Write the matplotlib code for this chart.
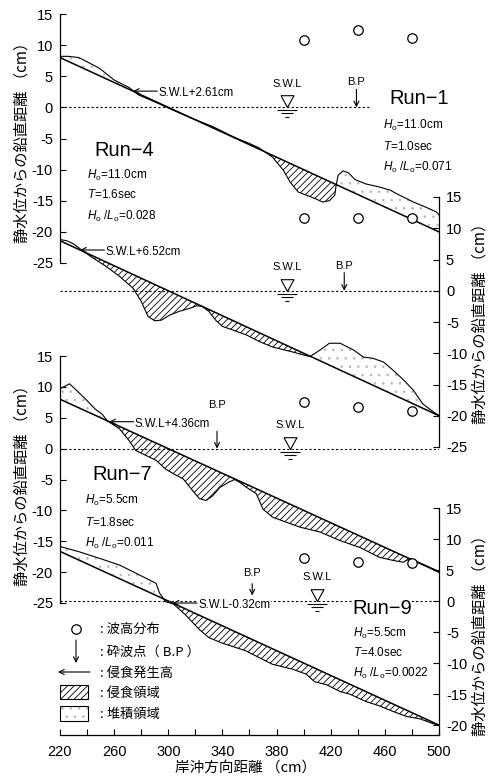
import numpy as np
import matplotlib
matplotlib.use('Agg')
import matplotlib.pyplot as plt
import matplotlib.patches as patches
from matplotlib.transforms import offset_copy

plt.rcParams['font.family'] = ['Liberation Sans', 'Noto Sans CJK JP']
plt.rcParams['axes.unicode_minus'] = False
plt.rcParams['mathtext.fontset'] = 'custom'
plt.rcParams['mathtext.rm'] = 'Liberation Sans'
plt.rcParams['mathtext.it'] = 'Liberation Sans:italic'
plt.rcParams['hatch.linewidth'] = 0.6

W, H = 488, 776
X0, X1 = 60, 439
JP = ['Noto Sans CJK JP', 'Liberation Sans']

# initial beach (slope 1/10), same for every run
init_x = [220, 500]
init_y = [8, -20]

wave_x = [400, 440, 480]

# Run-1
run1_x = [220, 226, 234, 249, 260, 271, 278, 293, 303, 318, 333, 345, 352, 360, 367, 371,
          377, 385, 390, 396, 402, 409, 414, 419, 423, 424, 425.5, 429, 433, 438, 446, 456,
          464, 469, 481, 491, 498, 500]
run1_y = [8.2, 8.2, 8.0, 6.3, 4.4, 3.2, 2.0, 0.6, -0.4, -1.8, -3.1, -4.4, -5.1, -5.8, -6.5, -7.1,
          -8.0, -10.1, -12.0, -13.6, -14.1, -14.7, -15.2, -15.0, -14.1, -12.5, -10.9, -10.2, -10.5,
          -11.6, -12.3, -12.8, -13.3, -13.9, -15.2, -16.1, -16.8, -17.3]
run1_wave = [10.8, 12.4, 11.1]

# Run-4
run4_x = [220, 225, 230, 238, 244, 254, 264, 274, 280, 285, 290, 295, 301, 308, 316, 321, 325,
          330, 335, 340, 348, 358, 367, 377, 392, 402, 405, 412, 419, 427, 437, 444, 451, 459,
          466, 474, 481, 488, 496, 500]
run4_y = [8.2, 8.0, 7.5, 6.2, 5.3, 3.9, 2.3, 0.4, -1.7, -4.1, -4.8, -4.7, -3.9, -3.3, -2.8, -2.4,
          -2.5, -3.3, -4.7, -5.7, -6.3, -7.1, -8.1, -9.0, -9.8, -10.4, -10.5, -9.5, -8.4, -8.4,
          -9.5, -10.6, -10.8, -11.4, -12.7, -14.3, -15.9, -18.1, -19.4, -20.0]
run4_wave = [11.7, 11.7, 11.6]

# Run-7
run7_x = [220, 227, 230, 239, 246, 251, 255, 264, 271, 276, 283.5, 291, 298, 304, 311, 318, 323,
          328, 333, 338, 345, 349, 353, 358, 365, 370, 377, 387, 397, 412, 427, 441.5, 456, 466,
          473.5, 478.5, 490, 498, 500]
run7_y = [9.7, 10.5, 9.9, 8.0, 6.4, 5.6, 4.5, 3.2, 1.3, -0.3, -1.1, -1.9, -3.3, -4.1, -4.9, -6.8,
          -8.1, -8.4, -7.6, -6.3, -5.4, -5.0, -5.5, -6.3, -7.3, -9.8, -11.1, -11.9, -12.7, -13.5,
          -14.9, -16.0, -17.6, -18.1, -18.4, -17.8, -18.9, -19.7, -20.0]
run7_wave = [7.5, 6.8, 6.1]

# Run-9
run9_x = [220, 234, 249, 264, 276, 286, 291, 293.5, 298, 304, 313, 323, 330, 340, 357, 377, 392,
          402, 408, 417, 427, 434, 446, 456, 466, 476, 486, 496, 500]
run9_y = [8.8, 7.95, 6.9, 5.8, 4.5, 3.4, 2.85, 1.3, -0.1, -0.5, -2.3, -4.6, -5.9, -6.8, -8.0,
          -10.2, -11.0, -11.8, -13.0, -13.5, -14.6, -15.0, -16.2, -16.9, -17.8, -18.6, -19.0,
          -19.8, -20.0]
run9_wave = [6.9, 6.3, 6.2]

# erosion start level (cm above S.W.L), S.W.L mark and breaking point positions
levels = [2.61, 6.52, 4.36, -0.32]
swl_pos = [388, 388, 390, 410]
bp_pos = [439, 430, 336, 362]
bp_text_off = [14.5, 14.5, 28, 16.5]   # points above the water line
bp_arrow = [(13, 0), (13, 0), (12.5, 0), (12.5, 4)]  # arrow start / end offset, points

fig = plt.figure(figsize=(W / 100, H / 100), dpi=100)


def add_panel(top, bottom, ylo, yhi, side):
    ax = fig.add_axes([X0 / W, 1 - bottom / H, (X1 - X0) / W, (bottom - top) / H])
    ax.set_xlim(220, 500)
    ax.set_ylim(ylo, yhi)
    ax.patch.set_alpha(0)
    for s in ['top', 'left', 'right', 'bottom']:
        ax.spines[s].set_visible(s == side)
        ax.spines[s].set_linewidth(0.9)
    ax.set_xticks([])
    if side == 'right':
        ax.yaxis.tick_right()
    ax.tick_params(axis='y', direction='in', length=4, width=0.8, labelsize=10.5, pad=5)
    return ax


ax1 = add_panel(14, 263, -25, 15, 'left')
ax4 = add_panel(197, 447, -25, 15, 'right')
ax7 = add_panel(356, 603, -25, 15, 'left')
ax9 = add_panel(508, 735, -21.6, 15, 'right')
for ax in [ax1, ax4, ax7]:
    ax.set_yticks(range(-25, 16, 5))
    ax.spines[('left' if ax is not ax4 else 'right')].set_bounds(-25, 15)
ax9.set_yticks(range(-20, 16, 5))
ax9.spines['bottom'].set_visible(True)
ax9.spines['bottom'].set_linewidth(0.9)
ax9.set_xticks(range(220, 501, 40))
ax9.set_xticks(range(240, 500, 40), minor=True)
ax9.tick_params(axis='x', which='both', direction='in', length=4, width=0.8, labelsize=10.5, pad=7)

panels = [
    (ax1, run1_x, run1_y, run1_wave, 450),
    (ax4, run4_x, run4_y, run4_wave, 500),
    (ax7, run7_x, run7_y, run7_wave, 500),
    (ax9, run9_x, run9_y, run9_wave, 500),
]

tri = [(-0.55, 1), (0.55, 1), (0, 0), (-0.55, 1)]

for i, (ax, xs, ys, wave, zend) in enumerate(panels):
    xs = np.asarray(xs, float)
    ys = np.asarray(ys, float)
    base = np.interp(xs, init_x, init_y)
    ax.fill_between(xs, ys, base, where=ys < base, interpolate=True, facecolor='none',
                    edgecolor='black', hatch='/////', linewidth=0, zorder=1)
    ax.fill_between(xs, ys, base, where=ys > base, interpolate=True, facecolor='none',
                    edgecolor='0.72', hatch='..', linewidth=0, zorder=1)
    ax.plot(init_x, init_y, color='black', lw=1.1, zorder=3)
    ax.plot(xs, ys, color='black', lw=0.8, zorder=3)
    ax.plot([220, zend], [0, 0], color='black', lw=0.8, ls=(0, (2, 2)), zorder=2)
    ax.plot(wave_x, wave, 'o', ms=6.8, mfc='white', mec='black', mew=0.9, zorder=6)

    # S.W.L mark
    sx = swl_pos[i]
    ax.plot([sx], [0], marker=tri, ms=17, mfc='white', mec='black', mew=0.8, ls='none', zorder=5)
    for dy, w in [(3, 14.4), (6, 8.6), (10, 2.9)]:
        tr = offset_copy(ax.transData, fig=fig, x=0, y=-dy, units='dots')
        ax.plot([sx], [0], marker='_', ms=w, mew=0.8, color='black', transform=tr, zorder=5)
    ax.annotate('S.W.L', xy=(sx, 0), xytext=(0, 13.5), textcoords='offset points',
                ha='center', va='bottom', fontsize=8)

    # breaking point
    bx = bp_pos[i]
    a0, a1 = bp_arrow[i]
    tr = offset_copy(ax.transData, fig=fig, x=0, y=a1, units='points')
    ax.annotate('', xy=(bx, 0), xycoords=tr, xytext=(0, a0 - a1), textcoords='offset points',
                arrowprops=dict(arrowstyle='->', lw=0.8, shrinkA=0, shrinkB=0, mutation_scale=9))
    ax.annotate('B.P', xy=(bx, 0), xytext=(0, bp_text_off[i]), textcoords='offset points',
                ha='center', va='bottom', fontsize=8)

    # erosion start height
    lv = levels[i]
    xc = np.interp(lv, init_y[::-1], init_x[::-1])
    ax.annotate('', xy=(xc, lv), xytext=(17.5, 0), textcoords='offset points',
                arrowprops=dict(arrowstyle='->', lw=0.8, shrinkA=0, shrinkB=0, mutation_scale=9))
    lab = 'S.W.L%+.2fcm' % lv
    ax.annotate(lab, xy=(xc, lv), xytext=(18.5, -1.5), textcoords='offset points',
                ha='left', va='center', fontsize=8.3, zorder=7,
                bbox=dict(fc='white', ec='none', pad=0.3))

# overlay in pixel coordinates for labels and legend
ov = fig.add_axes([0, 0, 1, 1])
ov.set_xlim(0, W)
ov.set_ylim(H, 0)
ov.axis('off')
ov.patch.set_alpha(0)

run_labels = [
    ('Run−1', (419, 98), (383, [125, 146, 167]), ('11.0', '1.0', '0.071')),
    ('Run−4', (124, 150), (87, [175, 195, 216]), ('11.0', '1.6', '0.028')),
    ('Run−7', (122, 475), (85, [500, 522, 543]), ('5.5', '1.8', '0.011')),
    ('Run−9', (382, 609), (353, [633, 653, 673]), ('5.5', '4.0', '0.0022')),
]
for name, (rx, ry), (px, pys), (h0, t, st) in run_labels:
    ov.text(rx, ry, name, ha='center', va='center', fontsize=14.5,
            bbox=dict(fc='white', ec='none', pad=0.5))
    ov.text(px, pys[0], r'$H_{\rm o}$=' + h0 + 'cm', ha='left', va='center', fontsize=8.5)
    ov.text(px, pys[1], r'$T$=' + t + 'sec', ha='left', va='center', fontsize=8.5)
    ov.text(px, pys[2], r'$H_{\rm o}$ /$L_{\rm o}$=' + st, ha='left', va='center', fontsize=8.5)

ylab = '静水位からの鉛直距離 （cm）'
for (lx, ly) in [(22, 139), (480, 320), (22, 482), (480, 632)]:
    ov.text(lx, ly, ylab, rotation=90, ha='center', va='center', fontsize=11, family=JP)
ov.text(246, 768, '岸沖方向距離 （cm）', ha='center', va='center', fontsize=10.5, family=JP)

# legend
leg_txt = [': 波高分布', ': 砕波点（ B.P ）', ': 侵食発生高', ': 侵食領域', ': 堆積領域']
leg_y = [629, 652, 673, 693, 714]
ov.plot([76], [629], 'o', ms=6.8, mfc='white', mec='black', mew=0.9)
ov.annotate('', xy=(76, 663), xytext=(76, 640),
            arrowprops=dict(arrowstyle='->', lw=0.8, shrinkA=0, shrinkB=0, mutation_scale=9))
ov.annotate('', xy=(58, 672), xytext=(90, 672),
            arrowprops=dict(arrowstyle='->', lw=0.8, shrinkA=0, shrinkB=0, mutation_scale=9))
ov.add_patch(patches.Rectangle((60, 685), 28, 14, facecolor='white', edgecolor='black',
                               hatch='/////', lw=0.8))
ov.add_patch(patches.Rectangle((60, 706), 28, 15, facecolor='none', edgecolor='0.72',
                               hatch='..', lw=0))
ov.add_patch(patches.Rectangle((60, 706), 28, 15, facecolor='none', edgecolor='black', lw=0.8))
for t, y in zip(leg_txt, leg_y):
    ov.text(100, y, t, ha='left', va='center', fontsize=9.5, family=JP)

fig.savefig('out.png', dpi=100)
